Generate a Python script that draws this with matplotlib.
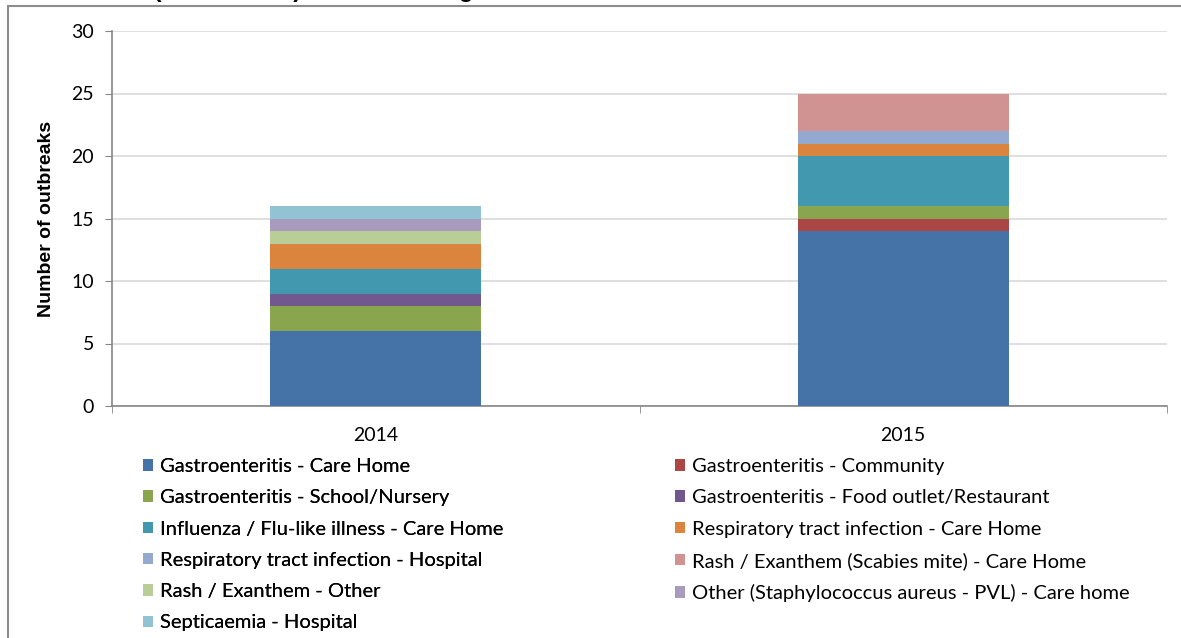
import matplotlib.pyplot as plt
from matplotlib.patches import Patch, Rectangle

plt.rcParams["font.family"] = ["Lato", "DejaVu Sans"]

years = ["2014", "2015"]
categories = [
    "Gastroenteritis - Care Home",
    "Gastroenteritis - Community",
    "Gastroenteritis - School/Nursery",
    "Gastroenteritis - Food outlet/Restaurant",
    "Influenza / Flu-like illness - Care Home",
    "Respiratory tract infection - Care Home",
    "Respiratory tract infection - Hospital",
    "Rash / Exanthem (Scabies mite) - Care Home",
    "Rash / Exanthem - Other",
    "Other (Staphylococcus aureus - PVL) - Care home",
    "Septicaemia - Hospital",
]
counts_2014 = [6, 0, 2, 1, 2, 2, 0, 0, 1, 1, 1]
counts_2015 = [14, 1, 1, 0, 4, 1, 1, 3, 0, 0, 0]
colors = [
    "#4572A7", "#AA4643", "#89A54E", "#71588F", "#4198AF", "#DB843D",
    "#93A9CF", "#D19392", "#B9CD96", "#A99BBD", "#92C3D3",
]


def plot_outbreaks() -> None:
    fig = plt.figure(figsize=(11.81, 6.38), dpi=100)
    ax = fig.add_axes([112 / 1181, 1 - 406 / 638, (1167 - 112) / 1181, (406 - 31) / 638])

    # chart-area frame, partially cut off like the source image
    fig.patches.append(Rectangle((8 / 1181, -0.1), 1.2, 1.1 - 6 / 638,
                                 transform=fig.transFigure, fill=False,
                                 edgecolor="#8C8C8C", linewidth=1.5))
    # title sits just above the visible area; only its descenders show
    fig.text(30 / 1181, 1 + 3.5 / 638, "Outbreaks (2014 \u2013 2015) in each setting",
             fontsize=17, fontweight="bold", family="Liberation Sans",
             va="baseline", ha="left")

    x = range(len(years))
    bottoms = [0, 0]
    handles = []
    for cat, v14, v15, col in zip(categories, counts_2014, counts_2015, colors):
        vals = [v14, v15]
        ax.bar(x, vals, width=0.4, bottom=bottoms, color=col, zorder=3)
        bottoms = [b + v for b, v in zip(bottoms, vals)]
        handles.append(Patch(facecolor=col, label=cat))

    ax.set_xlim(-0.5, 1.5)
    ax.set_ylim(0, 30)
    ax.set_yticks(range(0, 31, 5))
    ax.set_xticks(list(x))
    ax.set_xticklabels(years)
    ax.set_xticks([-0.5, 0.5, 1.5], minor=True)
    ax.tick_params(axis="x", which="major", length=0, labelsize=14, pad=15)
    ax.tick_params(axis="x", which="minor", length=5, color="#868686", direction="out")
    ax.tick_params(axis="y", length=5, color="#868686", labelsize=14, pad=8)
    ax.yaxis.grid(True, color="#D9D9D9", linewidth=1.2, zorder=0)
    for s in ("top", "right"):
        ax.spines[s].set_visible(False)
    for s in ("left", "bottom"):
        ax.spines[s].set_color("#868686")
        ax.spines[s].set_linewidth(1.2)
    ax.set_ylabel("Number of outbreaks", fontsize=14, fontweight="bold",
                  family="Liberation Sans", labelpad=12)

    leg_kw = dict(frameon=False, fontsize=14.5, handlelength=0.5, handleheight=0.5,
                  handletextpad=0.35, labelspacing=0.71, borderpad=0, borderaxespad=0,
                  loc="upper left")
    left = fig.legend(handles=handles[0::2], bbox_to_anchor=(143 / 1181, 1 - 458 / 638), **leg_kw)
    fig.add_artist(left)
    fig.legend(handles=handles[1::2], bbox_to_anchor=(675 / 1181, 1 - 458 / 638), **leg_kw)

    fig.savefig("out.png", dpi=100)


if __name__ == "__main__":
    plot_outbreaks()
